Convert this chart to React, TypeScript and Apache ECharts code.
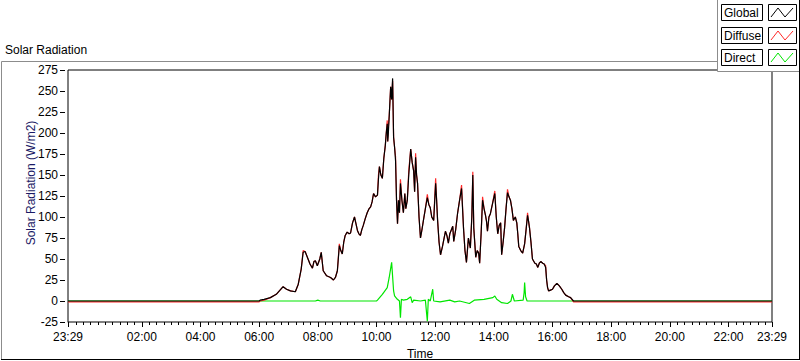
import React, { useEffect, useRef } from "react";
import * as echarts from "echarts";

// ---- Data ----
const axisStart = "23:29"; // previous day
const axisEnd = "23:29";
const xLabelTimes = ["23:29", "02:00", "04:00", "06:00", "08:00", "10:00", "12:00", "14:00", "16:00", "18:00", "20:00", "22:00", "23:29"];
const yMin = -25;
const yMax = 275;
const yStep = 25;

const nightGlobal = 0;
const nightDiffuse = -1;
const nightDirect = 0;

const dayTimes = [
  "06:00", "06:02", "06:10", "06:23", "06:35", "06:49", "06:56", "07:04", "07:14", "07:20",
  "07:26", "07:30", "07:34", "07:40", "07:44", "07:49", "07:52", "07:55", "07:59", "08:04",
  "08:07", "08:11", "08:18", "08:26", "08:32", "08:36", "08:40", "08:44", "08:47", "08:50",
  "08:53", "08:56", "09:00", "09:04", "09:07", "09:11", "09:15", "09:18", "09:21", "09:24",
  "09:27", "09:30", "09:33", "09:37", "09:41", "09:45", "09:48", "09:51", "09:54", "09:58",
  "10:02", "10:04", "10:06", "10:09", "10:12", "10:15", "10:18", "10:20", "10:22", "10:23",
  "10:24", "10:26", "10:29", "10:31", "10:33", "10:35", "10:37", "10:39", "10:41", "10:43",
  "10:45", "10:47", "10:49", "10:52", "10:55", "10:58", "11:00", "11:03", "11:06", "11:10",
  "11:13", "11:16", "11:18", "11:20", "11:22", "11:24", "11:27", "11:30", "11:33", "11:36",
  "11:40", "11:44", "11:47", "11:50", "11:53", "11:57", "12:01", "12:03", "12:05", "12:08",
  "12:11", "12:15", "12:21", "12:24", "12:27", "12:30", "12:36", "12:38", "12:42", "12:46",
  "12:50", "12:54", "12:58", "13:01", "13:04", "13:08", "13:12", "13:15", "13:17", "13:19",
  "13:23", "13:26", "13:29", "13:31", "13:34", "13:37", "13:40", "13:43", "13:45", "13:47",
  "13:50", "13:53", "13:57", "14:02", "14:05", "14:08", "14:11", "14:14", "14:16", "14:19",
  "14:22", "14:25", "14:28", "14:31", "14:34", "14:37", "14:40", "14:44", "14:47", "14:49",
  "14:51", "14:55", "14:59", "15:03", "15:06", "15:09", "15:11", "15:13", "15:16", "15:19",
  "15:24", "15:27", "15:30", "15:33", "15:36", "15:40", "15:43", "15:46", "15:48", "15:50",
  "15:52", "15:56", "16:00", "16:04", "16:09", "16:14", "16:19", "16:23", "16:27", "16:33",
  "16:37", "16:43",
];

const globalValues = [
  0, 1, 2, 4, 8, 17, 14, 12, 11, 20,
  38, 58, 59, 50, 44, 39, 47, 48, 42, 50,
  58, 36, 30, 28, 25, 28, 36, 66, 60, 56,
  70, 78, 82, 80, 81, 93, 100, 92, 84, 80,
  78, 85, 90, 98, 105, 110, 112, 118, 128, 124,
  126, 145, 160, 150, 146, 170, 185, 200, 211, 190,
  197, 220, 255, 240, 265, 195, 183, 167, 120, 92,
  120, 105, 140, 120, 105, 128, 110, 120, 150, 181,
  165, 155, 130, 171, 150, 140, 100, 75, 85, 96,
  110, 123, 115, 111, 100, 96, 140, 120, 96, 70,
  55, 65, 83, 78, 69, 80, 89, 71, 85, 105,
  120, 134, 87, 60, 46, 75, 63, 100, 150, 87,
  52, 60, 57, 45, 80, 120, 110, 102, 95, 83,
  100, 104, 115, 128, 100, 80, 90, 93, 55, 70,
  87, 110, 129, 124, 120, 110, 96, 100, 93, 80,
  65, 60, 57, 68, 85, 102, 95, 87, 70, 50,
  45, 44, 40, 45, 47, 45, 44, 40, 25, 16,
  12, 13, 14, 18, 21, 18, 14, 10, 7, 5,
  4, 0,
];

const diffuseValues = [
  -1, 0, 1, 4, 8, 17, 14, 12, 11, 20,
  38, 60, 59, 50, 44, 39, 47, 48, 42, 50,
  58, 36, 30, 28, 25, 28, 36, 68, 60, 56,
  70, 78, 82, 80, 81, 93, 100, 92, 84, 80,
  78, 85, 90, 98, 105, 110, 112, 118, 128, 124,
  126, 150, 160, 150, 146, 170, 185, 200, 215, 190,
  205, 220, 255, 240, 262, 195, 183, 172, 120, 92,
  120, 105, 145, 120, 105, 128, 110, 120, 155, 181,
  165, 155, 130, 176, 150, 140, 100, 75, 85, 96,
  110, 127, 115, 111, 100, 96, 146, 120, 96, 70,
  55, 65, 83, 78, 69, 80, 89, 71, 85, 105,
  120, 138, 87, 60, 46, 75, 63, 100, 154, 87,
  52, 60, 57, 45, 80, 124, 110, 102, 95, 83,
  100, 104, 115, 131, 100, 80, 90, 93, 55, 70,
  87, 110, 133, 124, 120, 110, 96, 100, 93, 80,
  65, 60, 57, 68, 85, 105, 95, 87, 70, 50,
  45, 44, 40, 45, 47, 45, 44, 42, 25, 16,
  12, 13, 14, 18, 21, 18, 14, 10, 7, 5,
  4, -1,
];

const directTimes = [
  "06:00", "07:55", "08:00", "08:05", "10:00", "10:02", "10:12", "10:22", "10:26", "10:31",
  "10:35", "10:37", "10:41", "10:47", "10:49", "10:51", "10:55", "11:03", "11:10", "11:13",
  "11:16", "11:30", "11:40", "11:44", "11:46", "11:50", "11:55", "11:57", "12:10", "12:30",
  "12:40", "12:50", "13:10", "13:20", "13:40", "13:58", "14:02", "14:06", "14:16", "14:28",
  "14:35", "14:38", "14:42", "15:00", "15:02", "15:03", "15:05", "15:08", "16:00", "16:43",
];
const directValues = [
  0, 0, 1, 0, 0, 1, 8, 16, 28, 46,
  12, 6, 3, 0, -20, 2, 1, 2, 5, -2,
  1, 0, 1, -24, 2, 0, 14, 0, -1, 1,
  -1, 0, -3, 1, 2, 4, 6, 2, -2, -3,
  0, 8, 0, 1, 10, 22, 5, 0, 0, 0,
];

// ---- helpers ----
const toMin = (s: string) => {
  const [h, m] = s.split(":").map(Number);
  return h * 60 + m;
};
const X_MIN = toMin(axisStart) - 1440;
const X_MAX = toMin(axisEnd);
const fmt = (v: number) => {
  let m = Math.round(v);
  if (m < 0) m += 1440;
  const h = Math.floor(m / 60);
  const mm = m % 60;
  return `${String(h).padStart(2, "0")}:${String(mm).padStart(2, "0")}`;
};

const xLabelValues = xLabelTimes.map((t, i) => (i === 0 ? toMin(t) - 1440 : toMin(t)));
const minorTickValues: number[] = [];
for (let m = -30; m <= X_MAX; m += 15) minorTickValues.push(m);

const buildSeries = (times: string[], vals: number[], night: number) => {
  const d: [number, number][] = [[X_MIN, night]];
  times.forEach((t, i) => d.push([toMin(t), vals[i]]));
  d.push([X_MAX, night]);
  return d;
};

const FONT = "Liberation Sans";

export default function App() {
  const ref = useRef<HTMLDivElement>(null);
  useEffect(() => {
    if (!ref.current) return;
    const chart = echarts.init(ref.current, undefined, { renderer: "svg" });
    const gridTop = 70;
    const gridBottom = 39;
    const gridH = 361 - gridTop - gridBottom;

    const legendRows = [
      { name: "Global", color: "#000000", y: 4 },
      { name: "Diffuse", color: "#ff2a2a", y: 27 },
      { name: "Direct", color: "#00e600", y: 49 },
    ];
    const legendEls: any[] = [
      { type: "rect", shape: { x: 717, y: -1, width: 84, height: 72 }, style: { fill: "#ffffff", stroke: null }, z: 100 },
      { type: "line", shape: { x1: 717.5, y1: 0, x2: 717.5, y2: 71.5 }, style: { stroke: "#8c8c8c", lineWidth: 1 }, z: 101 },
      { type: "line", shape: { x1: 717.5, y1: 71.5, x2: 800, y2: 71.5 }, style: { stroke: "#8c8c8c", lineWidth: 1 }, z: 101 },
    ];
    legendRows.forEach((r) => {
      legendEls.push(
        { type: "rect", shape: { x: 721.5, y: r.y + 0.5, width: 41, height: 16 }, style: { fill: "#fff", stroke: "#000", lineWidth: 1 }, z: 102 },
        { type: "text", x: 724, y: r.y + 9, style: { text: r.name, fontFamily: FONT, fontSize: 12, fill: "#000", align: "left", verticalAlign: "middle" }, z: 103 },
        { type: "rect", shape: { x: 768.5, y: r.y + 0.5, width: 28, height: 16 }, style: { fill: "#fff", stroke: "#000", lineWidth: 1 }, z: 102 },
        { type: "polyline", shape: { points: [[771, r.y + 13], [778, r.y + 4], [785, r.y + 13], [793, r.y + 4]] }, style: { stroke: r.color, lineWidth: 1, fill: null }, z: 103 }
      );
    });

    chart.setOption({
      animation: false,
      backgroundColor: "#ffffff",
      textStyle: { fontFamily: FONT },
      grid: {
        left: 68,
        top: gridTop,
        right: 28,
        bottom: gridBottom,
        show: true,
        borderColor: "#000",
        borderWidth: 1,
        backgroundColor: "#ffffff",
        containLabel: false,
        outerBoundsMode: "none",
      },
      xAxis: [
        {
          type: "value",
          min: X_MIN,
          max: X_MAX,
          position: "bottom",
          axisLine: { show: true, onZero: false, lineStyle: { color: "#808080", width: 1 } },
          axisTick: { show: true, customValues: minorTickValues, length: 3, lineStyle: { color: "#000" } },
          axisLabel: {
            customValues: xLabelValues,
            formatter: (v: number) => fmt(v),
            margin: 9,
            color: "#000",
            fontFamily: FONT,
            fontSize: 12,
          },
          splitLine: { show: false },
          name: "Time",
          nameLocation: "middle",
          nameGap: 25,
          nameTextStyle: { color: "#000", fontFamily: FONT, fontSize: 12 },
        },
        {
          type: "value",
          min: X_MIN,
          max: X_MAX,
          position: "top",
          offset: -gridH,
          axisLine: { show: false, onZero: false },
          axisTick: { show: true, inside: true, customValues: xLabelValues, length: 5, lineStyle: { color: "#000" } },
          axisLabel: { show: false },
          splitLine: { show: false },
        },
      ],
      yAxis: [
        {
          type: "value",
          min: yMin,
          max: yMax,
          interval: yStep,
          position: "left",
          offset: 3,
          axisLine: { show: false, onZero: false },
          axisTick: { show: true, length: 5, lineStyle: { color: "#000" } },
          axisLabel: { margin: 7, color: "#000", fontFamily: FONT, fontSize: 12 },
          splitLine: { show: false },
        },
        {
          type: "value",
          min: yMin,
          max: yMax,
          interval: yStep,
          position: "right",
          axisLine: { show: true, onZero: false, lineStyle: { color: "#808080", width: 1 } },
          axisTick: { show: false },
          axisLabel: { show: false },
          splitLine: { show: false },
        },
      ],
      series: [
        {
          name: "Direct",
          type: "line",
          xAxisIndex: 0,
          yAxisIndex: 0,
          data: buildSeries(directTimes, directValues, nightDirect),
          showSymbol: false,
          lineStyle: { color: "#00e600", width: 1.2 },
          itemStyle: { color: "#00e600" },
          z: 1,
        },
        {
          name: "Diffuse",
          type: "line",
          xAxisIndex: 0,
          yAxisIndex: 0,
          data: buildSeries(dayTimes, diffuseValues, nightDiffuse),
          showSymbol: false,
          lineStyle: { color: "#ff2a2a", width: 1.2 },
          itemStyle: { color: "#ff2a2a" },
          z: 2,
        },
        {
          name: "Global",
          type: "line",
          xAxisIndex: 0,
          yAxisIndex: 0,
          data: buildSeries(dayTimes, globalValues, nightGlobal),
          showSymbol: false,
          lineStyle: { color: "#000000", width: 1.2 },
          itemStyle: { color: "#000000" },
          z: 3,
        },
      ],
      graphic: [
        { type: "line", shape: { x1: 1.5, y1: 61.5, x2: 717, y2: 61.5 }, style: { stroke: "#8c8c8c", lineWidth: 1 } },
        { type: "line", shape: { x1: 1.5, y1: 61.5, x2: 1.5, y2: 359.5 }, style: { stroke: "#8c8c8c", lineWidth: 1 } },
        { type: "line", shape: { x1: 1, y1: 359.5, x2: 800, y2: 359.5 }, style: { stroke: "#000", lineWidth: 1 } },
        { type: "line", shape: { x1: 799.5, y1: 0, x2: 799.5, y2: 360 }, style: { stroke: "#000", lineWidth: 1 }, z: 104 },
        {
          type: "text",
          x: 5,
          y: 50,
          style: { text: "Solar Radiation", fontFamily: FONT, fontSize: 12, fill: "#000", align: "left", verticalAlign: "middle" },
        },
        {
          type: "text",
          x: 31,
          y: 183,
          rotation: Math.PI / 2,
          style: { text: "Solar Radiation (W/m2)", fontFamily: FONT, fontSize: 12, fill: "#1a1a66", align: "center", verticalAlign: "middle" },
        },
        ...legendEls,
      ],
    });
    return () => chart.dispose();
  }, []);
  return <div ref={ref} style={{ position: "absolute", left: 0, top: 0, width: 800, height: 361 }} />;
}
